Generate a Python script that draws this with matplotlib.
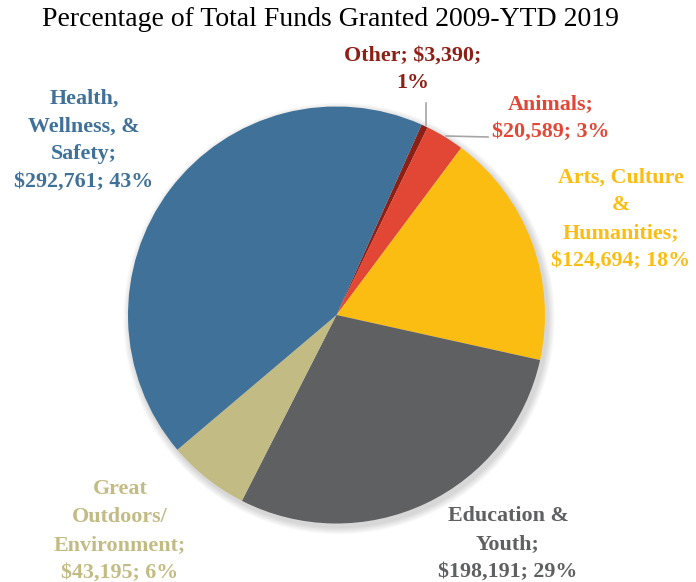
import matplotlib.pyplot as plt
from matplotlib.patches import Circle

W, H = 696, 582

categories = ["Other", "Animals", "Arts, Culture\n&\nHumanities", "Education &\nYouth",
              "Great\nOutdoors/\nEnvironment", "Health,\nWellness, &\nSafety"]
amounts = [3390, 20589, 124694, 198191, 43195, 292761]
percents = [1, 3, 18, 29, 6, 43]
colors = ["#8E1F14", "#E24736", "#FCBD13", "#5F6062", "#C2BC84", "#3F7199"]

# label text layout (pixel coords from top-left)
label_xy = [(413, 69), (551, 118), (621, 219), (508, 544), (120, 531), (84, 140)]

fig = plt.figure(figsize=(W / 100, H / 100), dpi=100)
ax = fig.add_axes([0, 0, 1, 1])

cx, cy, r = 336.5, H - 315, 208.5

# soft shadow
for i in range(8):
    ax.add_patch(Circle((cx + 2.5, cy - 3.5), r + 1 + i * 0.9, color="black",
                        alpha=0.018, lw=0, zorder=0))

ax.pie(amounts, colors=colors, startangle=65.9, counterclock=False,
       center=(cx, cy), radius=r, wedgeprops=dict(linewidth=0), frame=True)
ax.set_xlim(0, W)
ax.set_ylim(0, H)
ax.set_aspect("equal")
ax.axis("off")

font = ["Liberation Serif", "DejaVu Serif"]
ax.text(330, H - 20, "Percentage of Total Funds Granted 2009-YTD 2019",
        ha="center", va="center", fontsize=20, family=font, color="black")

for name, amt, pct, col, (x, y) in zip(categories, amounts, percents, colors, label_xy):
    if name == "Other":
        txt = f"Other; ${amt:,};\n{pct}%"
    elif name == "Animals":
        txt = f"Animals;\n${amt:,}; {pct}%"
    else:
        txt = f"{name};\n${amt:,}; {pct}%"
    ax.text(x, H - y, txt, ha="center", va="center", multialignment="center",
            fontsize=15.8, fontweight="bold", family=font, color=col, linespacing=1.52)

# leader lines
ax.plot([425.7, 425.7], [H - 125, H - 103], color="#A6A6A6", lw=1.2)
ax.plot([446, 488], [H - 136, H - 137], color="#A6A6A6", lw=1.2)

fig.savefig("out.png", dpi=100)
